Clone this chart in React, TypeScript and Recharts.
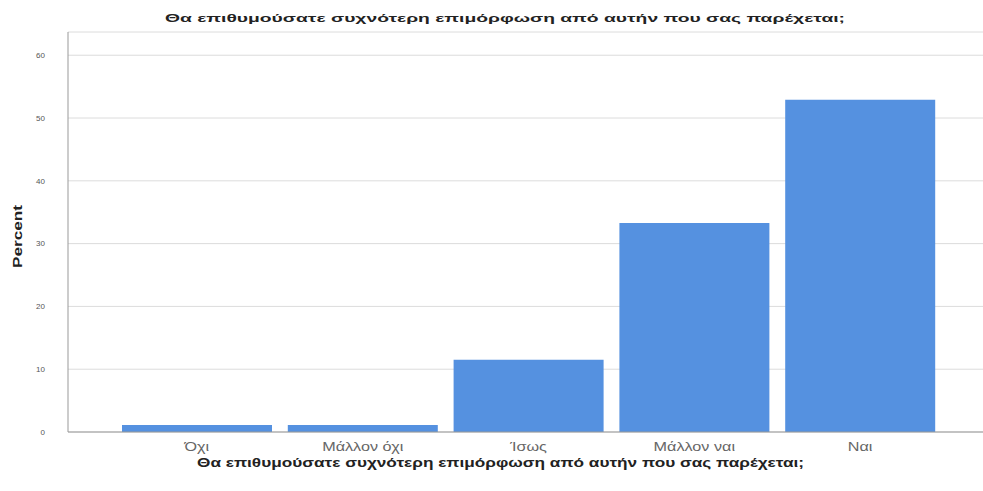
import React from "react";
import { BarChart, Bar, XAxis, YAxis, CartesianGrid } from "recharts";

const categories = ["Όχι", "Μάλλον όχι", "Ίσως", "Μάλλον ναι", "Ναι"];
const percents = [1.1, 1.1, 11.5, 33.3, 52.9];
const yTicks = [0, 10, 20, 30, 40, 50, 60];
const titleText = "Θα επιθυμούσατε συχνότερη επιμόρφωση από αυτήν που σας παρέχεται;";
const yLabelText = "Percent";

const data = categories.map((c, i) => ({ name: c, value: percents[i] }));

const FONT = "'Liberation Sans', Arial, sans-serif";

const XTick = (props: any) => {
  const { x, y, payload } = props;
  return (
    <text
      transform={`translate(${x},${y + 2}) scale(1.35,1)`}
      x={0}
      y={0}
      dy="0.71em"
      textAnchor="middle"
      fontSize={12}
      fill="#666"
      fontFamily={FONT}
    >
      {payload.value}
    </text>
  );
};

const YTick = (props: any) => {
  const { x, y, payload } = props;
  return (
    <text
      x={x - 15}
      y={y}
      dy="0.35em"
      textAnchor="end"
      fontSize={8}
      fill="#555"
      fontFamily={FONT}
    >
      {payload.value}
    </text>
  );
};

export default function App() {
  return (
    <div style={{ position: "absolute", left: 0, top: 0, width: 983, height: 491, background: "#fff" }}>
      <BarChart
        width={983}
        height={491}
        data={data}
        margin={{ top: 32, right: 0, bottom: 29, left: 0 }}
        barCategoryGap={8}
      >
        <CartesianGrid vertical={false} stroke="#dcdcdc" />
        <XAxis
          dataKey="name"
          tick={<XTick />}
          tickLine={false}
          axisLine={{ stroke: "#999" }}
          padding={{ left: 46, right: 40 }}
          interval={0}
          height={30}
        />
        <YAxis
          width={68}
          domain={[0, 63.7]}
          ticks={yTicks}
          tick={<YTick />}
          tickLine={false}
          axisLine={{ stroke: "#999" }}
          allowDataOverflow
        />
        <Bar dataKey="value" fill="#5591e0" isAnimationActive={false} />
      </BarChart>
      <svg
        width={983}
        height={491}
        style={{ position: "absolute", left: 0, top: 0, pointerEvents: "none" }}
      >
        <text
          x={165}
          y={22}
          fontSize={11}
          fontWeight="bold"
          fill="#222"
          fontFamily={FONT}
          textLength={680}
          lengthAdjust="spacingAndGlyphs"
        >
          {titleText}
        </text>
        <text
          x={197}
          y={467}
          fontSize={12}
          fontWeight="bold"
          fill="#222"
          fontFamily={FONT}
          textLength={607}
          lengthAdjust="spacingAndGlyphs"
        >
          {titleText}
        </text>
        <text
          transform="translate(22,268) rotate(-90)"
          x={0}
          y={0}
          fontSize={12}
          fontWeight="bold"
          fill="#222"
          fontFamily={FONT}
          textLength={63}
          lengthAdjust="spacingAndGlyphs"
        >
          {yLabelText}
        </text>
      </svg>
    </div>
  );
}
